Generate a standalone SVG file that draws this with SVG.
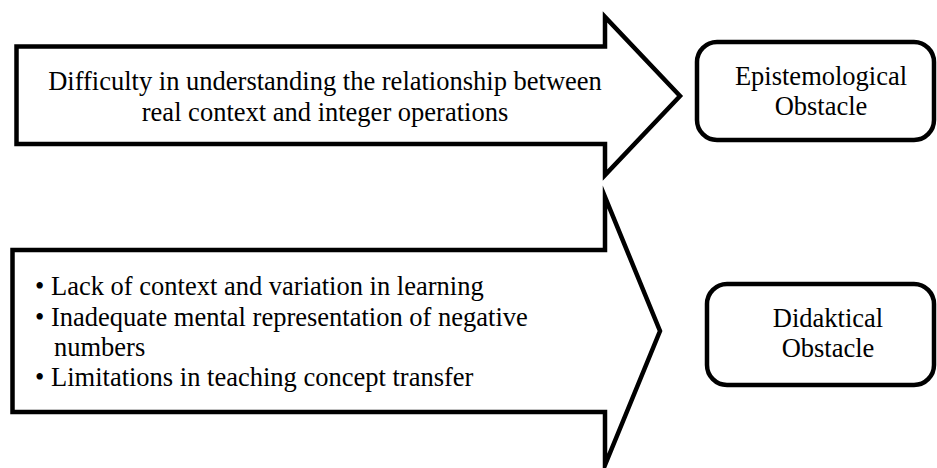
<svg xmlns="http://www.w3.org/2000/svg" width="937" height="468" viewBox="0 0 937 468">
  <style>
    .shape { fill: #ffffff; stroke: #000000; stroke-width: 4.5; stroke-linejoin: miter; stroke-miterlimit: 12; }
    .box { fill: #ffffff; stroke: #000000; stroke-width: 4.5; }
    text { font-family: 'Liberation Serif', 'Times New Roman', Times, serif; font-size: 26.5px; fill: #000000; }
    .c { text-anchor: middle; }
  </style>
  <rect x="0" y="0" width="937" height="468" fill="#ffffff"/>
  <g id="connectors"></g>
  <g id="arrow-epistemological">
    <path class="shape" d="M16.5,46.5 L605,46.5 L605,17 L680,96 L605,175 L605,144 L16.5,144 Z"/>
    <text class="c" x="325" y="90">Difficulty in understanding the relationship between</text>
    <text class="c" x="325" y="121">real context and integer operations</text>
  </g>
  <g id="node-epistemological">
    <rect class="box" x="697" y="42" width="237" height="98" rx="20" ry="20"/>
    <text class="c" x="821" y="85">Epistemological</text>
    <text class="c" x="821" y="115">Obstacle</text>
  </g>
  <g id="arrow-didaktical">
    <path class="shape" d="M12.5,250 L605,250 L605,197 L660,331 L605,465 L605,412 L12.5,412 Z"/>
    <text x="35" y="295">•</text>
    <text x="51" y="295">Lack of context and variation in learning</text>
    <text x="35" y="325.5">•</text>
    <text x="51" y="325.5">Inadequate mental representation of negative</text>
    <text x="54" y="355.5">numbers</text>
    <text x="35" y="386">•</text>
    <text x="51" y="386">Limitations in teaching concept transfer</text>
  </g>
  <g id="node-didaktical">
    <rect class="box" x="707" y="284" width="227" height="101" rx="20" ry="20"/>
    <text class="c" x="828" y="327">Didaktical</text>
    <text class="c" x="828" y="357">Obstacle</text>
  </g>
</svg>
